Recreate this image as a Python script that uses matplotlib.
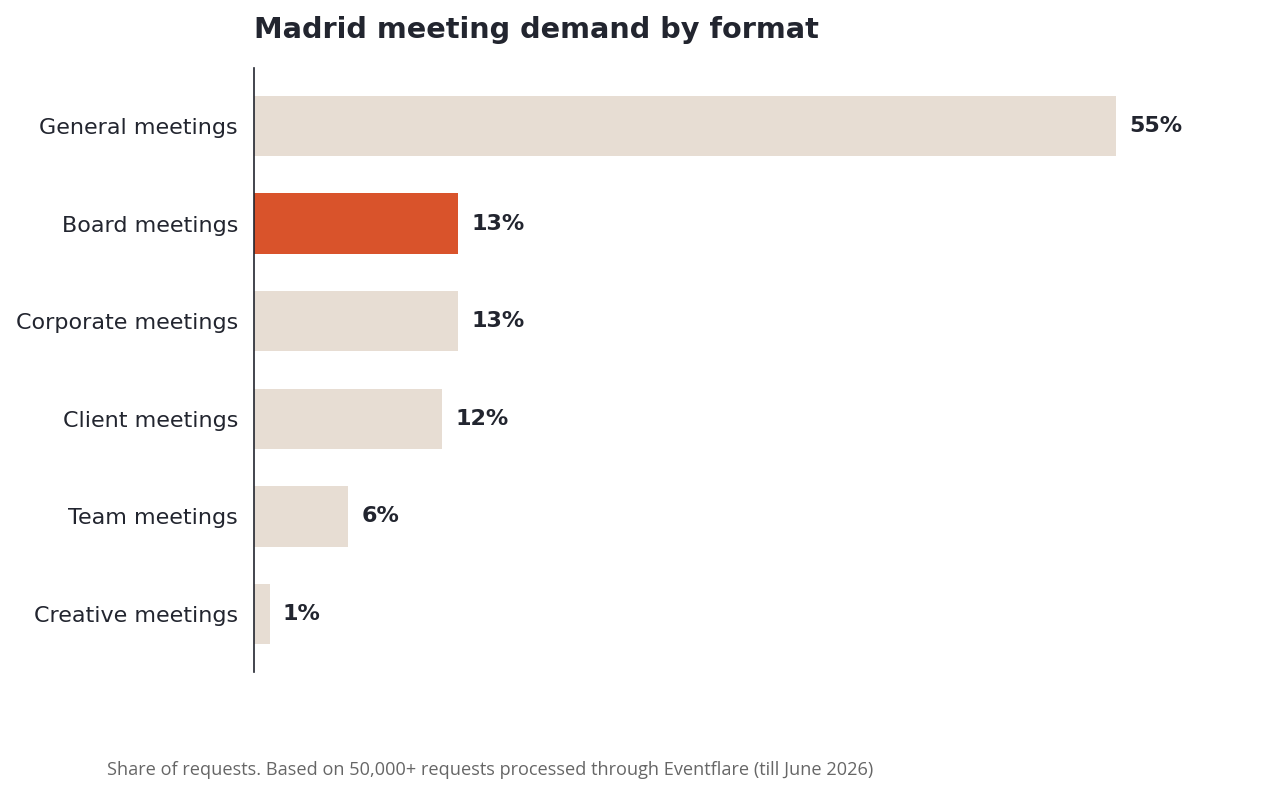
import matplotlib
matplotlib.use("Agg")
import matplotlib.pyplot as plt

categories = ["General meetings", "Board meetings", "Corporate meetings",
              "Client meetings", "Team meetings", "Creative meetings"]
shares = [55, 13, 13, 12, 6, 1]
highlight = "Board meetings"

title = "Madrid meeting demand by format"
footnote = "Share of requests. Based on 50,000+ requests processed through Eventflare (till June 2026)"

dark = "#22252f"
beige = "#e7ddd3"
orange = "#d9532b"

fig = plt.figure(figsize=(12.61, 7.94), dpi=100)
ax = fig.add_axes([254 / 1261, 1 - 672 / 794, 950 / 1261, 604 / 794])

ypos = list(range(len(categories)))
colors = [orange if c == highlight else beige for c in categories]
ax.barh(ypos, shares, height=0.62, color=colors)

for y, v in zip(ypos, shares):
    ax.text(v + 0.85, y, f"{v}%", va="center", ha="left",
            fontsize=16, fontweight="bold", color=dark)

ax.set_yticks(ypos)
ax.set_yticklabels(categories, fontsize=16, color=dark)
ax.tick_params(axis="y", length=0, pad=11.5)
ax.set_xticks([])
ax.set_xlim(0, 950 / (862 / 55))
ax.set_ylim(len(categories) - 1 + 0.595, -0.595)

for s in ["top", "right", "bottom"]:
    ax.spines[s].set_visible(False)
ax.spines["left"].set_color(dark)
ax.spines["left"].set_linewidth(1.2)

fig.text(254 / 1261, 1 - 30 / 794, title, fontsize=20.7, fontweight="bold",
         color=dark, ha="left", va="center")
fig.text(107 / 1261, 1 - 770 / 794, footnote, fontsize=13.1, color="#666666",
         ha="left", va="center", family=["Open Sans", "DejaVu Sans"])

fig.savefig("out.png", dpi=100)
